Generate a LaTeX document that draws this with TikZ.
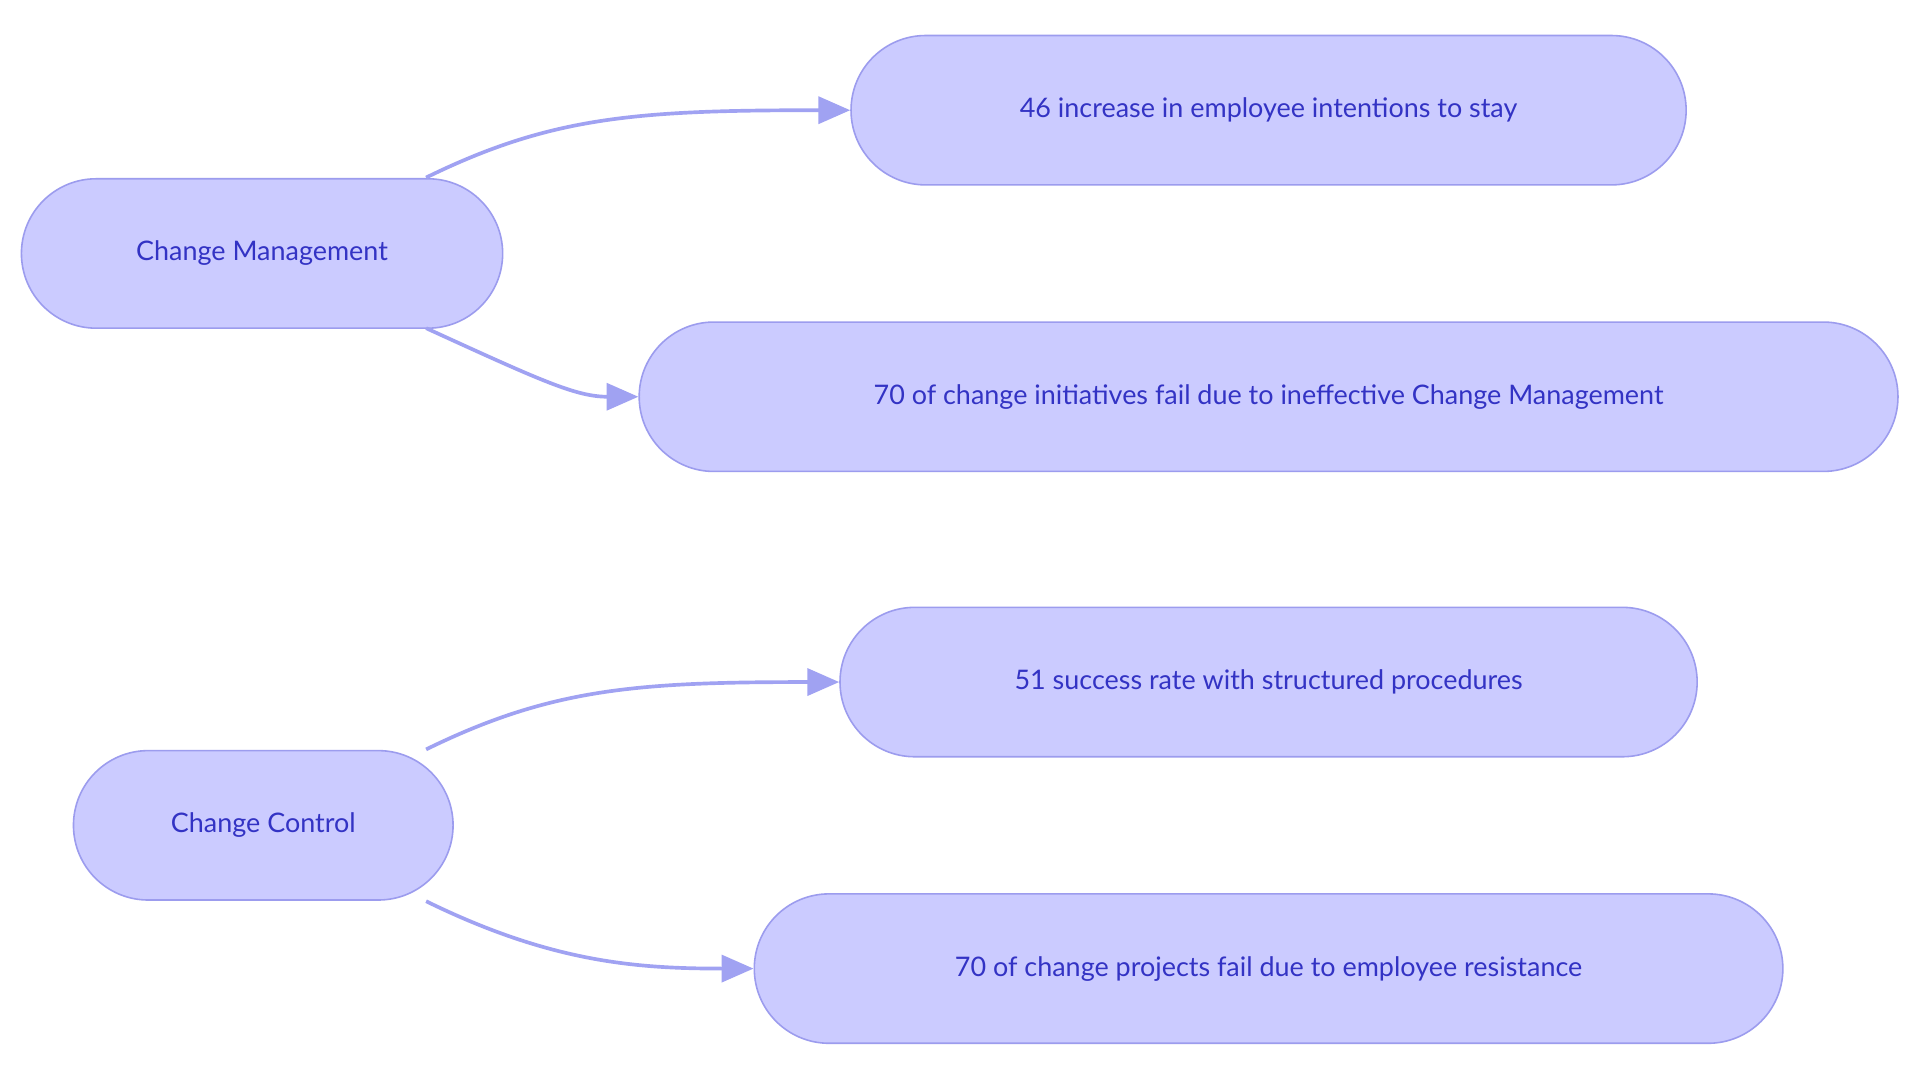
\documentclass[tikz,border=0pt]{standalone}
\usepackage{fontspec}
\setmainfont{Lato}
\usetikzlibrary{arrows.meta}
\definecolor{nfill}{HTML}{CBCBFF}
\definecolor{nedge}{HTML}{9C9CEE}
\definecolor{ntext}{HTML}{3333C4}
\definecolor{ledge}{HTML}{A0A2F2}
\tikzset{
 box/.style={draw=nedge,line width=1.3pt,fill=nfill,text=ntext,rounded corners=61pt,minimum height=122pt,inner sep=0pt,font=\fontsize{22}{26}\selectfont},
 link/.style={draw=ledge,line width=3pt,-{Triangle[length=26pt,width=22pt]}}
}
\begin{document}
\begin{tikzpicture}[x=1pt,y=-1pt]
\useasboundingbox (0,0) rectangle (1568,884);
\fill[white] (0,0) rectangle (1568,884);
\node[box,minimum width=393pt] (cm) at (214,207) {Change Management};
\node[box,minimum width=682pt] (a) at (1036,90) {46 increase in employee intentions to stay};
\node[box,minimum width=1028pt] (b) at (1036,324) {70 of change initiatives fail due to ineffective Change Management};
\node[box,minimum width=700pt] (c) at (1036,557) {51 success rate with structured procedures};
\node[box,minimum width=310pt] (cc) at (215,674) {Change Control};
\node[box,minimum width=840pt] (d) at (1036,791) {70 of change projects fail due to employee resistance};
\coordinate (s1) at (348,145);
\coordinate (s2) at (348,268);
\coordinate (s3) at (348,612);
\coordinate (s4) at (348,736);
\draw[link] (s1) .. controls (450,95) and (520,90) .. (a.west);
\draw[link] (s2) .. controls (440,310) and (470,324) .. (b.west);
\draw[link] (s3) .. controls (450,562) and (520,557) .. (c.west);
\draw[link] (s4) .. controls (450,786) and (520,791) .. (d.west);
\end{tikzpicture}
\end{document}
